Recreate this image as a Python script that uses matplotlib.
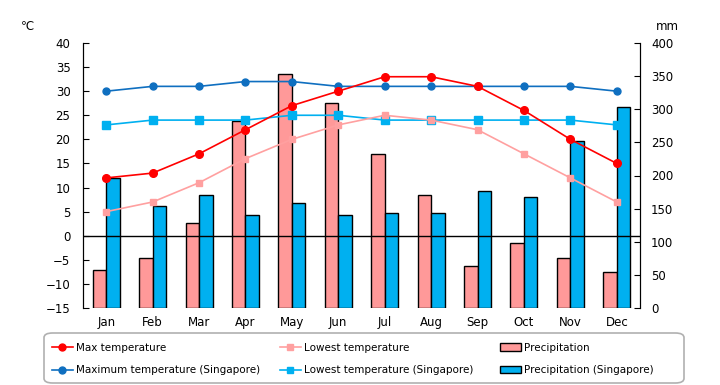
import matplotlib
matplotlib.use("Agg")
import matplotlib.pyplot as plt
import numpy as np
from matplotlib.lines import Line2D
from matplotlib.patches import Patch, FancyBboxPatch

months = ["Jan", "Feb", "Mar", "Apr", "May", "Jun", "Jul", "Aug", "Sep", "Oct", "Nov", "Dec"]
max_temp = [12, 13, 17, 22, 27, 30, 33, 33, 31, 26, 20, 15]
min_temp = [5, 7, 11, 16, 20, 23, 25, 24, 22, 17, 12, 7]
max_temp_sg = [30, 31, 31, 32, 32, 31, 31, 31, 31, 31, 31, 30]
min_temp_sg = [23, 24, 24, 24, 25, 25, 24, 24, 24, 24, 24, 23]
precip = [57, 75, 128, 282, 353, 310, 232, 170, 63, 98, 75, 54]
precip_sg = [196, 154, 170, 140, 158, 140, 144, 143, 176, 167, 252, 303]

temp_ticks = list(range(-15, 41, 5))
mm_ticks = list(range(0, 401, 50))

fig = plt.figure(figsize=(7.2, 3.85), dpi=100)
ax1 = fig.add_axes([83/720, 1-308/385, (640-83)/720, (308-43)/385])
ax2 = ax1.twinx()
ax1.set_zorder(ax2.get_zorder() + 1)
ax1.patch.set_visible(False)
ax2.patch.set_facecolor("#FFFDCC")

x = np.arange(len(months))
w = 0.29
pink = "#FF9999"
lblue = "#00B0F0"
dblue = "#0F6FC0"
red = "#FF0000"
lpink = "#FFA0A0"
ax2.bar(x - w/2, precip, width=w, color=pink, edgecolor="black", linewidth=1.0)
ax2.bar(x + w/2, precip_sg, width=w, color=lblue, edgecolor="black", linewidth=1.0)

ax1.axhline(0, color="black", linewidth=1.0, zorder=1)
ax1.plot(x, max_temp_sg, color=dblue, marker="o", markersize=5, linewidth=1.2, zorder=3)
ax1.plot(x, min_temp_sg, color=lblue, marker="s", markersize=5.5, linewidth=1.2, zorder=3)
ax1.plot(x, min_temp, color=lpink, marker="s", markersize=5, linewidth=1.2, zorder=3)
ax1.plot(x, max_temp, color=red, marker="o", markersize=5.5, linewidth=1.2, zorder=4)

ax1.set_xlim(-0.5, 11.5)
ax1.set_ylim(-15, 40)
ax2.set_ylim(0, 400)
ax1.set_yticks(temp_ticks)
ax2.set_yticks(mm_ticks)
ax1.set_xticks(x)
ax1.set_xticklabels(months)
ax1.tick_params(axis="x", length=0, pad=6, labelsize=8.5)
ax1.tick_params(axis="y", direction="in", length=4, labelsize=8.5, pad=9)
ax2.tick_params(axis="y", direction="in", length=4, labelsize=8.5, pad=8)

for a in (ax1, ax2):
    a.spines["top"].set_visible(False)
    a.spines["bottom"].set_visible(False)
    a.spines["left"].set_color("black")
    a.spines["right"].set_color("black")

fig.text(27/720, 1-27/385, "℃", fontsize=8.5, ha="center", va="center")
fig.text(667/720, 1-27/385, "mm", fontsize=8.5, ha="center", va="center")

# legend frame
frame = FancyBboxPatch((44/720, 1-383/385), (684-44)/720, (383-333)/385,
                       boxstyle="round,pad=0,rounding_size=0.012",
                       transform=fig.transFigure, facecolor="white",
                       edgecolor="#B0B0B0", linewidth=1.2, zorder=0)
fig.patches.append(frame)

cols = [
    (52, [Line2D([], [], color=red, marker="o", markersize=5, linewidth=1.2),
          Line2D([], [], color=dblue, marker="o", markersize=5, linewidth=1.2)],
     ["Max temperature", "Maximum temperature (Singapore)"]),
    (280, [Line2D([], [], color=lpink, marker="s", markersize=5, linewidth=1.2),
           Line2D([], [], color=lblue, marker="s", markersize=5, linewidth=1.2)],
     ["Lowest temperature", "Lowest temperature (Singapore)"]),
    (500, [Patch(facecolor=pink, edgecolor="black"),
           Patch(facecolor=lblue, edgecolor="black")],
     ["Precipitation", "Precipitation (Singapore)"]),
]
for xpx, hs, ls in cols:
    leg = fig.legend(hs, ls, loc="center left",
                     bbox_to_anchor=(xpx/720, 1-359/385),
                     fontsize=7.5, frameon=False, handlelength=2.0,
                     handletextpad=0.35, labelspacing=1.2, borderpad=0,
                     borderaxespad=0)

fig.savefig("out.png", dpi=100)
